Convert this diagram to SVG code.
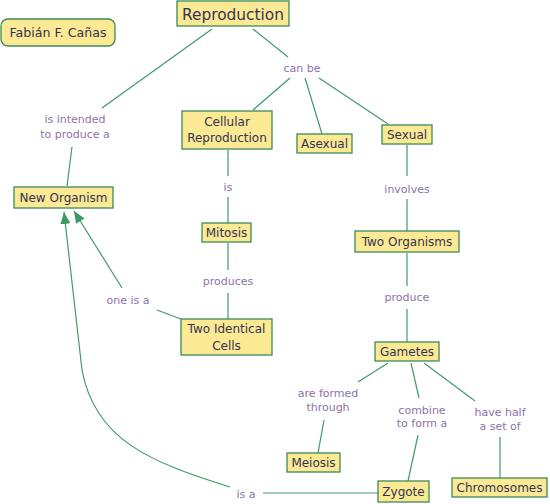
<svg xmlns="http://www.w3.org/2000/svg" width="550" height="504" viewBox="0 0 550 504">
<defs>
<style>
.n rect{fill:#fce993;stroke:#3c8a5a;stroke-width:1.3}
.n text{font-family:"DejaVu Sans",Verdana,sans-serif;font-size:12px;fill:#333355;text-anchor:middle}
.l text{font-family:"DejaVu Sans",Verdana,sans-serif;font-size:11px;fill:#8c73a8;text-anchor:middle}
#connectors path,#connectors line{stroke:#3e9a6a;stroke-width:1.2;fill:none}
</style>
<marker id="ah" markerUnits="userSpaceOnUse" markerWidth="13" markerHeight="11" refX="12" refY="5" orient="auto">
<path d="M0,0 L12,5 L0,10 z" fill="#3a9a62"/>
</marker>
</defs>
<rect width="550" height="504" fill="#fff"/>
<g id="connectors">
<line x1="212" y1="29" x2="102" y2="108"/>
<line x1="72" y1="147" x2="67" y2="186"/>
<line x1="253" y1="29" x2="288" y2="57"/>
<line x1="290" y1="78" x2="253" y2="110"/>
<line x1="305" y1="78" x2="322" y2="134"/>
<line x1="319" y1="78" x2="388" y2="124"/>
<line x1="228" y1="150" x2="228" y2="176"/>
<line x1="228" y1="197" x2="228" y2="223"/>
<line x1="228" y1="243" x2="228" y2="270"/>
<line x1="228" y1="293" x2="228" y2="319"/>
<line x1="181" y1="319" x2="157" y2="310"/>
<line x1="122" y1="288" x2="74" y2="211" marker-end="url(#ah)"/>
<path d="M230,487 C150,462 95,440 82,370 L64,212" marker-end="url(#ah)"/>
<line x1="378" y1="493" x2="263" y2="493"/>
<line x1="407" y1="145" x2="407" y2="176"/>
<line x1="407" y1="199" x2="407" y2="231"/>
<line x1="407" y1="253" x2="407" y2="286"/>
<line x1="407" y1="309" x2="407" y2="342"/>
<line x1="388" y1="363" x2="358" y2="382"/>
<line x1="324" y1="420" x2="318" y2="453"/>
<line x1="411" y1="363" x2="419" y2="398"/>
<line x1="418" y1="435" x2="408" y2="481"/>
<line x1="424" y1="363" x2="475" y2="401"/>
<line x1="500" y1="437" x2="500" y2="478"/>
</g>
<g class="l">
<g id="lbl-intended"><text x="75" y="123">is intended</text><text x="75" y="138">to produce a</text></g>
<g id="lbl-canbe"><text x="302" y="72">can be</text></g>
<g id="lbl-is"><text x="228" y="191">is</text></g>
<g id="lbl-produces"><text x="228" y="285">produces</text></g>
<g id="lbl-oneisa"><text x="128" y="304">one is a</text></g>
<g id="lbl-involves"><text x="407" y="193">involves</text></g>
<g id="lbl-produce"><text x="407" y="301">produce</text></g>
<g id="lbl-formed"><text x="328" y="397">are formed</text><text x="328" y="411">through</text></g>
<g id="lbl-combine"><text x="422" y="414">combine</text><text x="422" y="427">to form a</text></g>
<g id="lbl-half"><text x="500" y="416">have half</text><text x="500" y="430">a set of</text></g>
<g id="lbl-isa"><text x="246" y="498">is a</text></g>
</g>
<g class="n">
<g id="author"><rect x="1" y="19" width="114" height="27" rx="7"/><text x="58" y="37" style="font-size:12.5px" textLength="97" lengthAdjust="spacingAndGlyphs">Fabián F. Cañas</text></g>
<g id="reproduction"><rect x="177" y="1" width="112" height="25"/><text x="233" y="19.5" style="font-size:16.5px" textLength="102" lengthAdjust="spacingAndGlyphs">Reproduction</text></g>
<g id="cellular"><rect x="182" y="111" width="90" height="38"/><text x="227" y="126">Cellular</text><text x="227" y="142">Reproduction</text></g>
<g id="asexual"><rect x="297" y="134" width="55" height="19"/><text x="324.5" y="148">Asexual</text></g>
<g id="sexual"><rect x="382" y="125" width="50" height="19"/><text x="407" y="139">Sexual</text></g>
<g id="neworganism"><rect x="14" y="187" width="99" height="21"/><text x="63.5" y="202">New Organism</text></g>
<g id="mitosis"><rect x="202" y="223" width="49" height="19"/><text x="226.5" y="237">Mitosis</text></g>
<g id="twocells"><rect x="181" y="319" width="91" height="36"/><text x="226.5" y="333">Two Identical</text><text x="226.5" y="350">Cells</text></g>
<g id="twoorganisms"><rect x="355" y="231" width="104" height="21"/><text x="407" y="246">Two Organisms</text></g>
<g id="gametes"><rect x="375" y="342" width="64" height="19"/><text x="407" y="356">Gametes</text></g>
<g id="meiosis"><rect x="287" y="453" width="53" height="19"/><text x="313.5" y="467">Meiosis</text></g>
<g id="zygote"><rect x="378" y="481" width="51" height="21"/><text x="403.5" y="496">Zygote</text></g>
<g id="chromosomes"><rect x="452" y="478" width="95" height="19"/><text x="499.5" y="492">Chromosomes</text></g>
</g>
</svg>
